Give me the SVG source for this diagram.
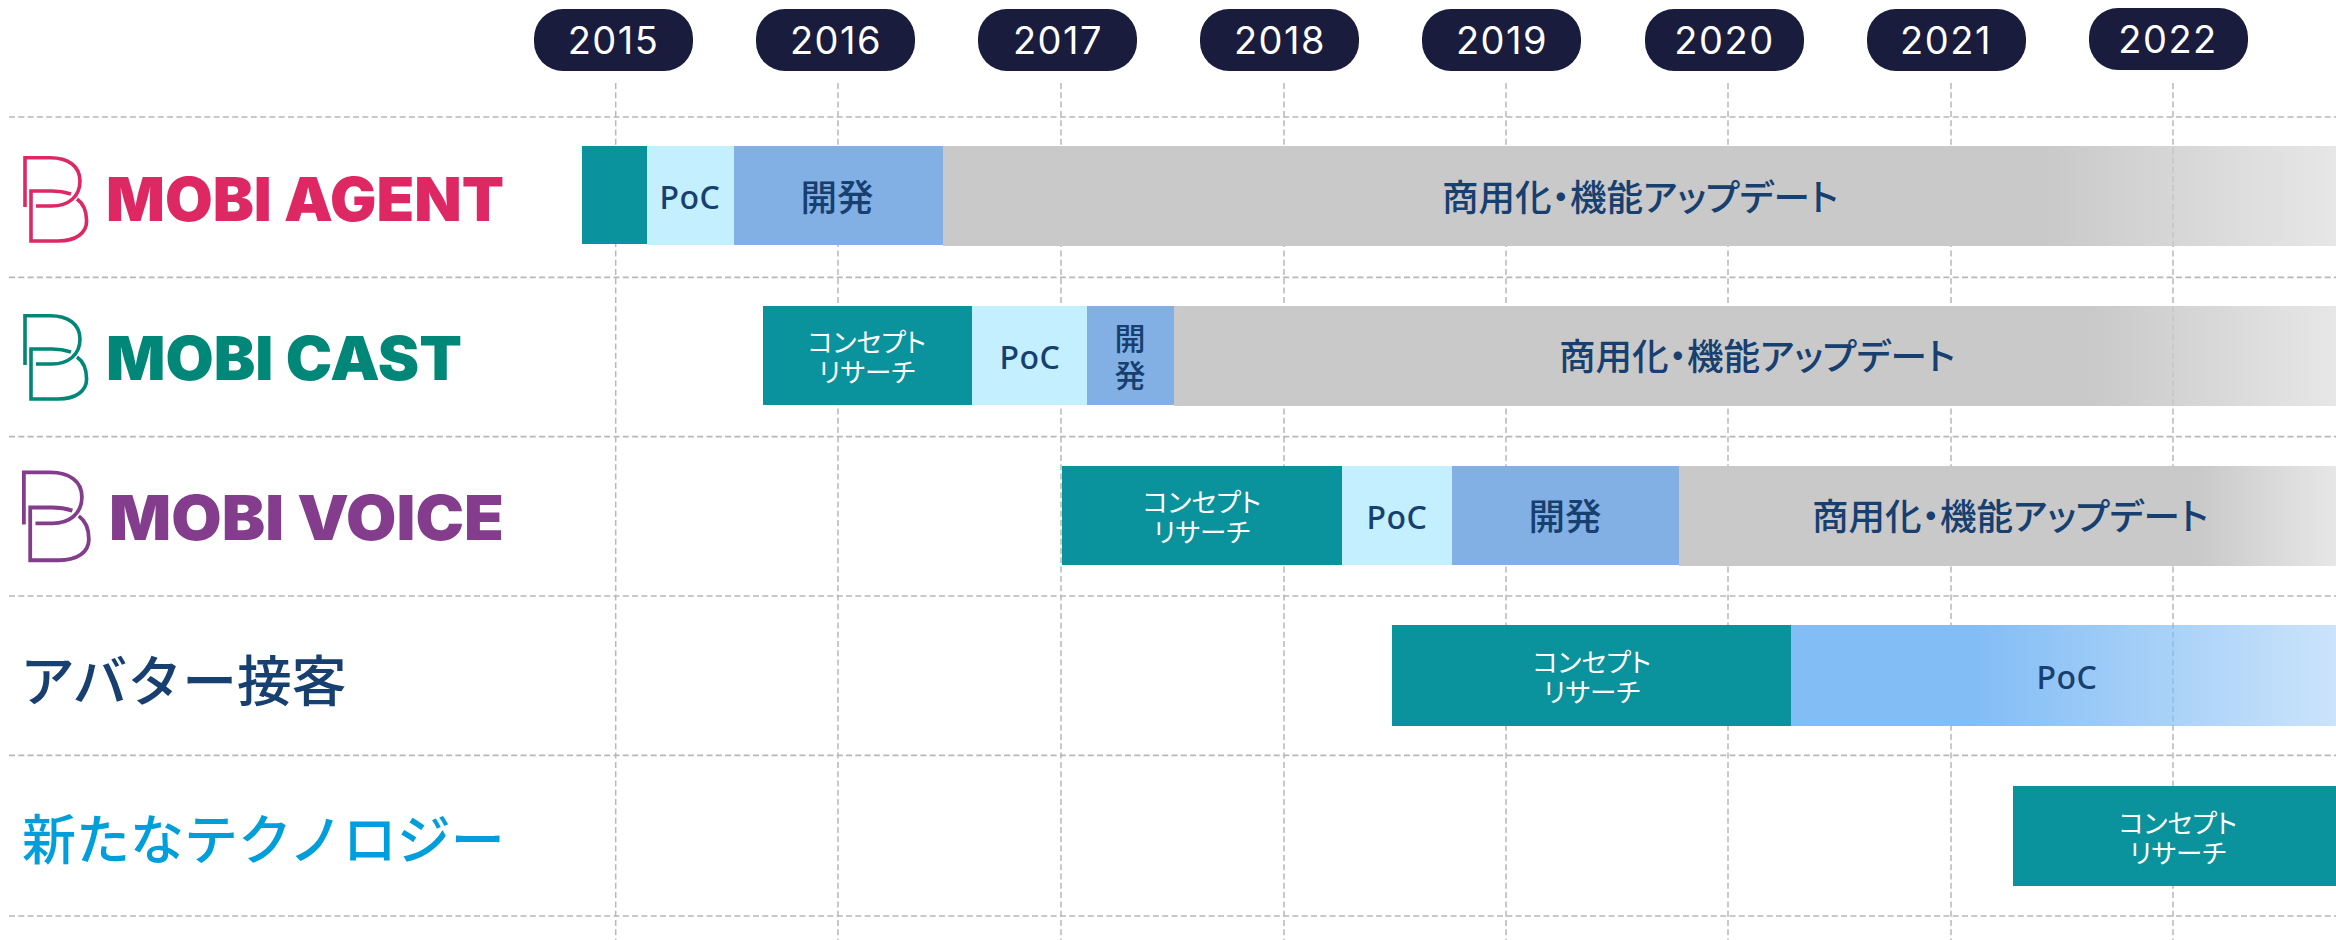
<svg xmlns="http://www.w3.org/2000/svg" width="2336" height="940" viewBox="0 0 2336 940">
<defs>
<linearGradient id="fadeGray" x1="0" y1="0" x2="1" y2="0"><stop offset="0.79" stop-color="#c9c9c9"/><stop offset="1" stop-color="#c9c9c9" stop-opacity="0.45"/></linearGradient>
<linearGradient id="fadeBlue" x1="0" y1="0" x2="1" y2="0"><stop offset="0.34" stop-color="#83bdf5"/><stop offset="1" stop-color="#83bdf5" stop-opacity="0.42"/></linearGradient>
<g id="bmark" fill="none" stroke-width="3.6">
<path d="M25 207V157.7H50C68 157.7 80 166 80 181C80 197 68 206 52 206H36"/>
<path d="M71 194C65 192 60 191 52 191H31V241H58C76 241 86.6 233 86.6 221C86.6 211 84 204 77 199"/>
</g>
</defs>
<style>
.pill{fill:#191c3d}
.yr{font:400 38px Inter,"Liberation Sans",sans-serif;letter-spacing:1.5px;fill:#fff;text-anchor:middle}
.h{fill:none;stroke:#b8b8b8;stroke-width:1.7;stroke-dasharray:6 3.3}
.v{fill:none;stroke:#b8b8b8;stroke-width:1.5;stroke-dasharray:6 3.3}
.t{fill:#0a939c}.l{fill:#c3efff}.b{fill:#82b0e4}.g{fill:url(#fadeGray)}
.j{font-family:"Noto Sans CJK JP","Liberation Sans",sans-serif;text-anchor:middle;font-feature-settings:"palt"}
.d{font-size:36.6px;font-weight:500;fill:#173f6f}
.w{font-size:26.4px;fill:#fff}
.p{font:500 32px "Noto Sans","Liberation Sans",sans-serif;letter-spacing:.5px;fill:#173f6f;text-anchor:middle}
.brand{font-family:Inter,"Liberation Sans",sans-serif;font-weight:900;font-size:60px}
.cat{font-family:"Noto Sans CJK JP",sans-serif;font-weight:500}
</style>
<rect width="2336" height="940" fill="#fff"/>
<g id="connectors">
<path class="v" d="M615.7 83V940M838 83V940M1061 83V940M1284 83V940M1506 83V940M1728 83V940M1951 83V940M2173 83V940"/>
<path class="h" d="M9 117H2336M9 277.3H2336M9 436.7H2336M9 596H2336M9 755.3H2336M9 916H2336"/>
</g>
<g id="years">
<g id="y2015"><rect class="pill" x="534" y="9" width="159" height="62" rx="29"/><text class="yr" x="613.5" y="54">2015</text></g>
<g id="y2016"><rect class="pill" x="756" y="9" width="159" height="62" rx="29"/><text class="yr" x="836" y="54">2016</text></g>
<g id="y2017"><rect class="pill" x="978" y="9" width="159" height="62" rx="29"/><text class="yr" x="1058" y="54">2017</text></g>
<g id="y2018"><rect class="pill" x="1200" y="9" width="159" height="62" rx="29"/><text class="yr" x="1280" y="54">2018</text></g>
<g id="y2019"><rect class="pill" x="1422" y="9" width="159" height="62" rx="29"/><text class="yr" x="1502" y="54">2019</text></g>
<g id="y2020"><rect class="pill" x="1645" y="9" width="159" height="62" rx="29"/><text class="yr" x="1724.5" y="54">2020</text></g>
<g id="y2021"><rect class="pill" x="1867" y="9" width="159" height="62" rx="29"/><text class="yr" x="1946" y="54">2021</text></g>
<g id="y2022"><rect class="pill" x="2089" y="8" width="159" height="62" rx="29"/><text class="yr" x="2168" y="53">2022</text></g>
</g>
<g id="row-agent">
<use href="#bmark" stroke="#dd2864"/>
<text class="brand" x="106" y="221" fill="#dd2864" textLength="398" lengthAdjust="spacingAndGlyphs">MOBI AGENT</text>
<rect class="t" x="582" y="146" width="65" height="98"/>
<rect class="l" x="647" y="146" width="87" height="99"/><text class="p" x="690" y="209">PoC</text>
<rect class="b" x="734" y="146" width="209" height="99"/><text class="j d" x="837" y="211">開発</text>
<rect class="g" x="943" y="146" width="1393" height="100"/><text class="j d" x="1640" y="211">商用化・機能アップデート</text>
</g>
<g id="row-cast">
<use href="#bmark" stroke="#008777" transform="translate(0 158)"/>
<text class="brand" x="106" y="380" fill="#008777" textLength="356" lengthAdjust="spacingAndGlyphs">MOBI CAST</text>
<rect class="t" x="763" y="306" width="209" height="99"/>
<text class="j w"><tspan x="867" y="352">コンセプト</tspan><tspan x="867" y="382">リサーチ</tspan></text>
<rect class="l" x="972" y="306" width="115" height="99"/><text class="p" x="1030" y="369">PoC</text>
<rect class="b" x="1087" y="306" width="87" height="99"/>
<text class="j d" style="font-size:31px"><tspan x="1130" y="350">開</tspan><tspan x="1130" y="387">発</tspan></text>
<rect class="g" x="1174" y="306" width="1162" height="100"/><text class="j d" x="1757" y="370">商用化・機能アップデート</text>
</g>
<g id="row-voice">
<use href="#bmark" stroke="#843d8c" transform="translate(-2.5 306) scale(1.055)"/>
<text class="brand" x="109" y="540" fill="#843d8c" textLength="395" lengthAdjust="spacingAndGlyphs" style="font-size:62px">MOBI VOICE</text>
<rect class="t" x="1062" y="466" width="280" height="99"/>
<text class="j w"><tspan x="1202" y="512">コンセプト</tspan><tspan x="1202" y="542">リサーチ</tspan></text>
<rect class="l" x="1342" y="466" width="110" height="99"/><text class="p" x="1397" y="529">PoC</text>
<rect class="b" x="1452" y="466" width="227" height="99"/><text class="j d" x="1565" y="530">開発</text>
<rect class="g" x="1679" y="466" width="657" height="100"/><text class="j d" x="2010" y="530">商用化・機能アップデート</text>
</g>
<g id="row-avatar">
<text class="cat" x="20" y="701" font-size="54.8" fill="#173f6f">アバター接客</text>
<rect class="t" x="1392" y="625" width="399" height="101"/>
<text class="j w"><tspan x="1592" y="672">コンセプト</tspan><tspan x="1592" y="702">リサーチ</tspan></text>
<rect x="1791" y="625" width="545" height="101" fill="url(#fadeBlue)"/><text class="p" x="2067" y="689">PoC</text>
</g>
<g id="row-new">
<text class="cat" x="22" y="860" font-size="54" fill="#009fdb">新たなテクノロジー</text>
<rect class="t" x="2013" y="786" width="323" height="100"/>
<text class="j w"><tspan x="2178" y="833">コンセプト</tspan><tspan x="2178" y="863">リサーチ</tspan></text>
</g>
</svg>
